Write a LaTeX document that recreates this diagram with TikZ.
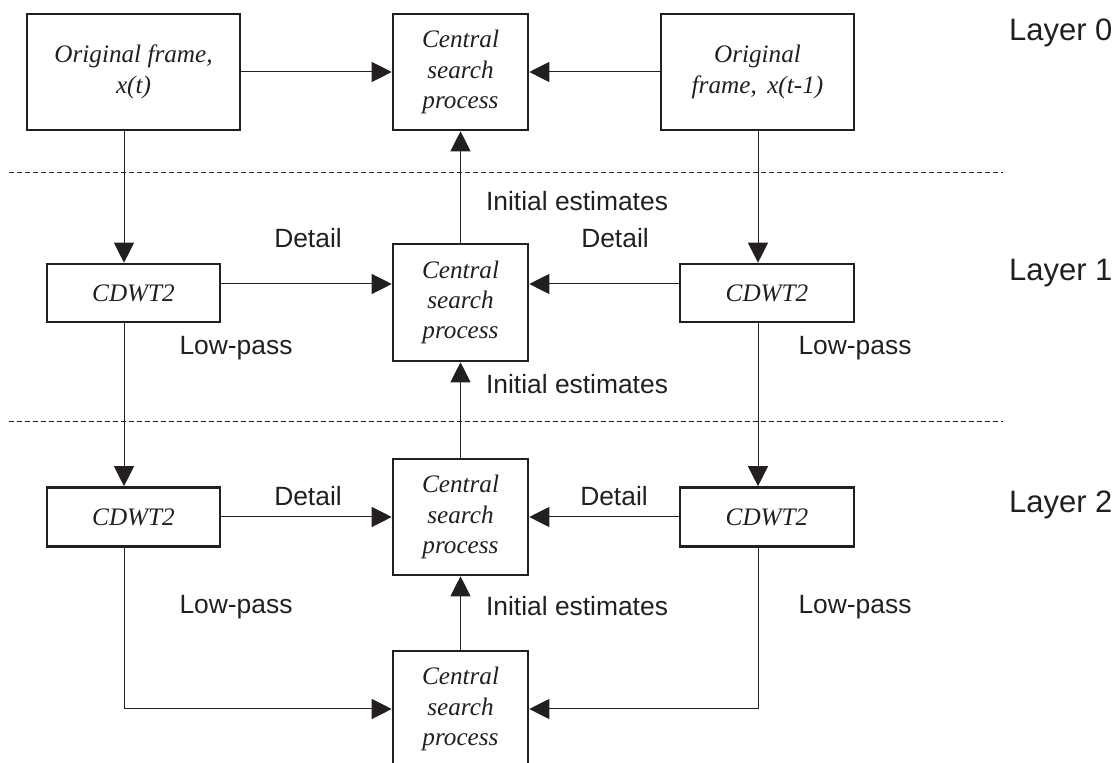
\documentclass[tikz,border=0pt]{standalone}
\usepackage{fontspec}
\setmainfont{Liberation Serif}
\setsansfont{Liberation Sans}
\usetikzlibrary{arrows.meta}
\definecolor{ink}{RGB}{35,31,32}
\tikzset{
  blk/.style={draw=ink, line width=1.3pt, align=center, inner sep=1pt,
    font=\fontsize{12.6}{15.2}\selectfont\itshape, text=ink},
  lbl/.style={font=\sffamily\fontsize{13.2}{16}\selectfont, text=ink},
  layerlbl/.style={font=\sffamily\fontsize{15.5}{18}\selectfont, text=ink, anchor=west},
  arr/.style={draw=ink, line width=0.5pt, -{Triangle[length=10pt,width=10pt]}},
  sep/.style={draw=ink, line width=0.5pt, dash pattern=on 2.5pt off 1.5pt}
}
\begin{document}
\begin{tikzpicture}[x=0.5pt, y=-0.5pt]
  \useasboundingbox (0,0) rectangle (1120,763);
  % layer separators
  \draw[sep] (9,173) -- (1003,173);
  \draw[sep] (9,422) -- (1003,422);
  % columns and rows
  \coordinate (colL) at (124,0);
  \coordinate (colR) at (758,0);
  \coordinate (row1) at (0,284);

  % Layer 0
  \node[blk, minimum width=106.5pt, minimum height=58pt] (orig0L) at (133.5,72) {Original frame,\\ x(t)};
  \node[blk, minimum width=67.5pt, minimum height=58pt] (csp0) at (460.5,72) {Central\\ search\\ process};
  \node[blk, minimum width=96.5pt, minimum height=58pt] (orig0R) at (757.5,72) {Original\\ frame,\, x(t-1)};
  \node[layerlbl] (lay0) at (1002,33) {Layer 0};

  % Layer 1
  \node[blk, minimum width=86.5pt, minimum height=29pt] (cdwt1L) at (133.5,293) {CDWT2};
  \node[blk, minimum width=67.5pt, minimum height=58.5pt] (csp1) at (460.5,302.5) {Central\\ search\\ process};
  \node[blk, minimum width=87pt, minimum height=29pt] (cdwt1R) at (767,293) {CDWT2};
  \node[layerlbl] (lay1) at (1002,273) {Layer 1};

  % Layer 2
  \node[blk, minimum width=86.5pt, minimum height=29.5pt] (cdwt2L) at (133.5,517) {CDWT2};
  \node[blk, minimum width=67.5pt, minimum height=58pt] (csp2) at (460.5,517) {Central\\ search\\ process};
  \node[blk, minimum width=87pt, minimum height=29.5pt] (cdwt2R) at (767,517) {CDWT2};
  \node[layerlbl] (lay2) at (1002,505) {Layer 2};

  % bottom search
  \node[blk, minimum width=67.5pt, minimum height=58pt] (csp3) at (460.5,709) {Central\\ search\\ process};

  % connectors
  \draw[arr] (orig0L) -- (csp0);
  \draw[arr] (orig0R) -- (csp0);
  \draw[arr] (csp1) -- (csp0);
  \draw[arr] (orig0L.south -| colL) -- (cdwt1L.north -| colL);
  \draw[arr] (orig0R.south -| colR) -- (cdwt1R.north -| colR);
  \draw[arr] (cdwt1L.east |- row1) -- (csp1.west |- row1);
  \draw[arr] (cdwt1R.west |- row1) -- (csp1.east |- row1);
  \draw[arr] (csp2) -- (csp1);
  \draw[arr] (cdwt1L.south -| colL) -- (cdwt2L.north -| colL);
  \draw[arr] (cdwt1R.south -| colR) -- (cdwt2R.north -| colR);
  \draw[arr] (cdwt2L) -- (csp2);
  \draw[arr] (cdwt2R) -- (csp2);
  \draw[arr] (csp3) -- (csp2);
  \draw[arr] (cdwt2L.south -| colL) |- (csp3.west);
  \draw[arr] (cdwt2R.south -| colR) |- (csp3.east);

  % connector labels
  \node[lbl, anchor=west] (init0) at (479,201) {Initial estimates};
  \node[lbl] (det1L) at (308,238) {Detail};
  \node[lbl] (det1R) at (615,238) {Detail};
  \node[lbl] (low1L) at (236,348) {Low-pass};
  \node[lbl] (low1R) at (855,348) {Low-pass};
  \node[lbl, anchor=west] (init1) at (479,384) {Initial estimates};
  \node[lbl] (det2L) at (308,496) {Detail};
  \node[lbl] (det2R) at (614,496) {Detail};
  \node[lbl] (low2L) at (236,607) {Low-pass};
  \node[lbl] (low2R) at (855,607) {Low-pass};
  \node[lbl, anchor=west] (init2) at (479,606) {Initial estimates};
\end{tikzpicture}
\end{document}
